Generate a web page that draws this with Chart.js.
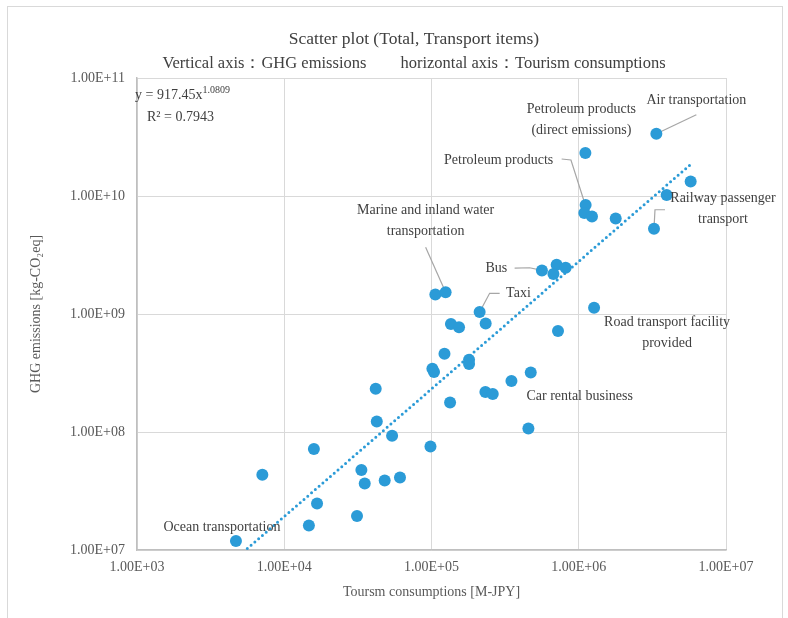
<!DOCTYPE html>
<html>
<head>
<meta charset="utf-8">
<script src="https://cdn.jsdelivr.net/npm/chart.js@4.4.1/dist/chart.umd.min.js"></script>
<style>
  html, body { margin: 0; padding: 0; background: #fff; }
  #wrap { position: relative; width: 788px; height: 618px; overflow: hidden; }
  #frame { position: absolute; left: 7px; top: 6px; width: 774px; height: 660px; border: 1px solid #d9d9d9; pointer-events: none; }
</style>
</head>
<body>
<div id="wrap">
  <canvas id="scatter" width="788" height="618"></canvas>
  <div id="frame"></div>
</div>
<script>
// Tourism consumption [M-JPY] per transport item
const consumption = [
    4700, 7100, 15900, 16700, 14700, 31200, 33400, 35200, 48100, 61100,
    54000, 42500, 41800, 98400, 133700, 101400, 104000, 122500, 135500, 153800,
    212300, 233300, 179900, 179900, 232300, 260600, 349100, 472100, 455000, 722800,
    1271000, 106200, 124700, 562300, 707900, 673000, 814700, 1109000, 1114000, 1091000,
    1230000, 1782000, 3365000, 5754000, 3954000, 3243000
];
// GHG emissions [kg-CO2eq]
const emissions = [
    1.19e7, 4.35e7, 7.18e7, 2.48e7, 1.61e7, 1.94e7, 4.76e7, 3.66e7, 3.89e7, 4.12e7,
    9.31e7, 1.23e8, 2.33e8, 7.55e7, 1.78e8, 3.44e8, 3.22e8, 4.61e8, 8.22e8, 7.71e8,
    1.04e9, 8.32e8, 4.10e8, 3.77e8, 2.18e8, 2.10e8, 2.70e8, 3.20e8, 1.07e8, 7.18e8,
    1.13e9, 1.46e9, 1.53e9, 2.34e9, 2.62e9, 2.18e9, 2.47e9, 2.31e10, 8.39e9, 7.18e9,
    6.71e9, 6.46e9, 3.37e10, 1.33e10, 1.02e10, 5.28e9
];
// power trendline ends
const trendX = [4700, 5750000];
const trendY = [8.5e6, 1.85e10];

const xTicks = [1e3, 1e4, 1e5, 1e6, 1e7];
const yTicks = [1e7, 1e8, 1e9, 1e10, 1e11];

const BLUE = '#2b9bd7';
const TEXT = '#595959';
const DARK = '#404040';
const FONT = '"Liberation Serif", "Times New Roman", serif';

// labels next to some points (idx = point, dx/dy = text offset in px, line = leader path)
const callouts = [
    { idx: 42, text: ['Air transportation'], dx: 40, dy: -33, line: [[40, -19]] },
    { idx: 37, text: ['Petroleum products', '(direct emissions)'], dx: -4, dy: -44 },
    { idx: 38, text: ['Petroleum products'], dx: -87, dy: -45, line: [[-1, -2], [-14.7, -45], [-24, -46]] },
    { idx: 45, text: ['Railway passenger', 'transport'], dx: 69, dy: -30, line: [[1, -19], [11, -19]] },
    { idx: 32, text: ['Marine and inland water', 'transportation'], dx: -20, dy: -82, line: [[-20, -45]] },
    { idx: 33, text: ['Bus'], dx: -45.6, dy: -2.4, line: [[-12.3, -2.7], [-27.3, -2.4]] },
    { idx: 20, text: ['Taxi'], dx: 38.8, dy: -18.7, line: [[10, -18.7], [20, -18.7]] },
    { idx: 30, text: ['Road transport facility', 'provided'], dx: 73, dy: 14.7 },
    { idx: 28, text: ['Car rental business'], dx: 51.3, dy: -32.3 },
    { idx: 0, text: ['Ocean transportation'], dx: -14, dy: -13.6 }
];

const sci = v => '1.00E+' + String(Math.round(Math.log10(v))).padStart(2, '0');

const overlay = {
    id: 'overlay',
    beforeDatasetsDraw(chart) {
        const { ctx, scales: { x, y } } = chart;
        ctx.save();
        ctx.strokeStyle = '#a6a6a6';
        ctx.lineWidth = 1.2;
        callouts.forEach(c => {
            if (!c.line) return;
            const px = x.getPixelForValue(consumption[c.idx]);
            const py = y.getPixelForValue(emissions[c.idx]);
            ctx.beginPath();
            ctx.moveTo(px, py);
            c.line.forEach(([dx, dy]) => ctx.lineTo(px + dx, py + dy));
            ctx.stroke();
        });
        ctx.restore();
    },
    afterDraw(chart) {
        const { ctx, scales: { x, y } } = chart;
        ctx.save();
        ctx.fillStyle = DARK;
        ctx.textAlign = 'center';
        ctx.textBaseline = 'middle';

        // titles
        ctx.font = '17.5px ' + FONT;
        ctx.fillText('Scatter plot (Total, Transport items)', 414, 39);
        ctx.font = '16.5px ' + FONT;
        ctx.fillText('Vertical axis：GHG emissions　　horizontal axis：Tourism consumptions', 414, 64);

        // callout texts
        ctx.font = '14px ' + FONT;
        callouts.forEach(c => {
            const px = x.getPixelForValue(consumption[c.idx]);
            const py = y.getPixelForValue(emissions[c.idx]);
            c.text.forEach((t, i) => ctx.fillText(t, px + c.dx, py + c.dy + i * 21));
        });

        // trendline equation
        ctx.textAlign = 'left';
        ctx.font = '14px ' + FONT;
        const eq = 'y = 917.45x';
        ctx.fillText(eq, 135, 95);
        const w = ctx.measureText(eq).width;
        ctx.font = '10px ' + FONT;
        ctx.fillText('1.0809', 135 + w, 90);
        ctx.font = '14px ' + FONT;
        ctx.fillText('R² = 0.7943', 147, 117);
        ctx.restore();
    }
};

new Chart(document.getElementById('scatter'), {
    data: {
        datasets: [
            {
                type: 'scatter',
                data: consumption.map((v, i) => ({ x: v, y: emissions[i] })),
                backgroundColor: BLUE,
                borderWidth: 0,
                pointRadius: 6,
                order: 1
            },
            {
                type: 'line',
                data: trendX.map((v, i) => ({ x: v, y: trendY[i] })),
                borderColor: BLUE,
                borderWidth: 3,
                borderDash: [0, 5],
                borderCapStyle: 'round',
                pointRadius: 0,
                fill: false,
                order: 2
            }
        ]
    },
    options: {
        responsive: false,
        animation: false,
        events: [],
        layout: { padding: { left: 0, right: 62, top: 78, bottom: 0 } },
        plugins: {
            legend: { display: false },
            tooltip: { enabled: false },
            title: { display: false }
        },
        scales: {
            x: {
                type: 'logarithmic',
                position: 'bottom',
                min: 1e3,
                max: 1e7,
                afterBuildTicks: s => { s.ticks = xTicks.map(v => ({ value: v })); },
                afterFit: s => { s.height = 68; },
                ticks: { callback: sci, color: TEXT, font: { family: FONT, size: 14 }, padding: 9, maxRotation: 0, autoSkip: false },
                grid: { color: '#d9d9d9', drawTicks: false },
                border: { color: '#bfbfbf', width: 1.5 },
                title: {
                    display: true,
                    text: 'Toursm consumptions [M-JPY]',
                    color: TEXT,
                    font: { family: FONT, size: 14 },
                    padding: { top: 0, bottom: 17 }
                }
            },
            y: {
                type: 'logarithmic',
                position: 'left',
                min: 1e7,
                max: 1e11,
                afterBuildTicks: s => { s.ticks = yTicks.map(v => ({ value: v })); },
                afterFit: s => { s.width = 137; },
                ticks: { callback: sci, color: TEXT, font: { family: FONT, size: 14 }, padding: 12, autoSkip: false },
                grid: { color: '#d9d9d9', drawTicks: false },
                border: { color: '#bfbfbf', width: 1.5 },
                title: {
                    display: true,
                    text: 'GHG emissions [kg-CO₂eq]',
                    color: TEXT,
                    font: { family: FONT, size: 14 },
                    padding: { top: 28, bottom: 0 }
                }
            }
        }
    },
    plugins: [overlay]
});
</script>
</body>
</html>
